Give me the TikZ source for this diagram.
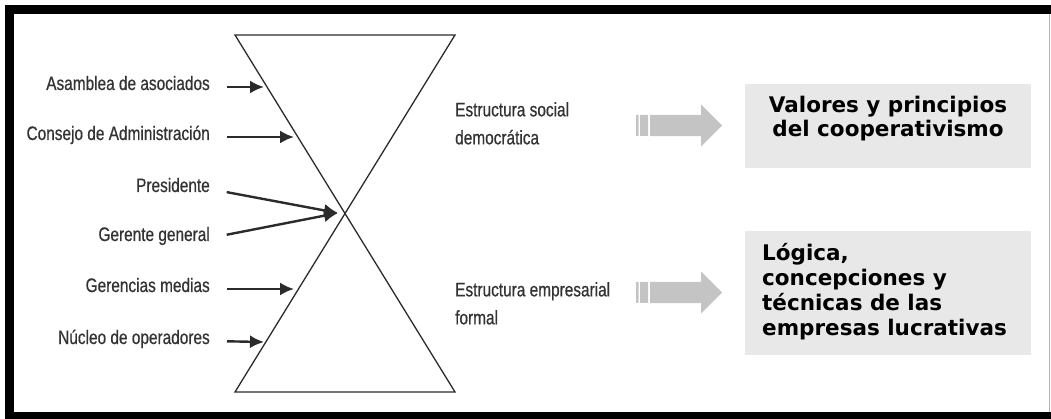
\documentclass[tikz,border=0pt]{standalone}
\usepackage{fontspec}
\setmainfont{Liberation Sans}
\newfontfamily\narrowfont{Liberation Sans}[FakeStretch=0.79, FakeBold=0.6]
\newfontfamily\boxfont{DejaVu Sans}
\usetikzlibrary{arrows.meta,shapes.arrows}
\definecolor{ink}{HTML}{2B2B2B}
\definecolor{labeltext}{HTML}{333333}
\definecolor{arrowgray}{HTML}{C4C4C4}
\definecolor{boxgray}{HTML}{E8E8E8}
\definecolor{edge}{HTML}{B4B4B4}

\begin{document}
\begin{tikzpicture}[x=1pt, y=-1pt,
  lbl/.style={anchor=east, font=\narrowfont\fontsize{19.5}{22}\selectfont,
              text=labeltext, text height=8pt, text depth=2pt, inner sep=0pt},
  mid/.style={anchor=north west, align=left, inner sep=0pt, text=labeltext,
              font=\narrowfont\fontsize{19.5}{28}\selectfont},
  box/.style={fill=boxgray, draw=none, minimum width=286pt, inner sep=0pt, anchor=north west},
  boxtext/.style={inner sep=0pt, text=black, font=\boxfont\bfseries\fontsize{21.5}{24}\selectfont},
  flecha/.style={single arrow, fill=arrowgray, draw=none, minimum height=72pt,
                 inner xsep=0pt, inner ysep=10.5pt, single arrow head extend=10.5pt,
                 single arrow tip angle=90, anchor=tail},
  arr/.style={-{Latex[length=14pt,width=13pt]}, line width=2.4pt, ink, shorten <=17pt}
]
  \useasboundingbox (0,0) rectangle (1051,419);

  % marco
  \draw[line width=9pt] (9.5,419) -- (9.5,10) -- (1051,10);
  \draw[line width=7pt] (5,415.5) -- (1051,415.5);
  \draw[edge, line width=1.5pt] (1049.5,14) -- (1049.5,412);

  % reloj de arena
  \coordinate (tl) at (235,35);
  \coordinate (tr) at (455,35);
  \coordinate (bl) at (235,392);
  \coordinate (br) at (455,392);
  \draw[ink, line width=1.3pt] (tl) -- (tr) -- (bl) -- (br) -- cycle;

  \coordinate (tipA) at (264,87);
  \coordinate (tipB) at (294,137);
  \coordinate (tipC) at (338,213);
  \coordinate (tipD) at (294,289);
  \coordinate (tipE) at (264,342);

  % niveles
  \node[lbl] (asamblea) at (210,87) {Asamblea de asociados};
  \node[lbl] (consejo) at (210,137) {Consejo de Administración};
  \node[lbl] (presidente) at (210,189) {Presidente};
  \node[lbl] (gerente) at (210,238) {Gerente general};
  \node[lbl] (gerencias) at (210,289) {Gerencias medias};
  \node[lbl] (nucleo) at (210,341) {Núcleo de operadores};

  \draw[arr] (asamblea.east) -- (tipA);
  \draw[arr] (consejo.east) -- (tipB);
  \draw[arr] (presidente.east) -- (tipC);
  \draw[arr] (gerente.east) -- (tipC);
  \draw[arr] (gerencias.east) -- (tipD);
  \draw[arr] (nucleo.east) -- (tipE);

  % estructuras
  \node[mid] (social) at (455,102) {Estructura social\\democrática};
  \node[mid] (empresarial) at (455,282) {Estructura empresarial\\formal};

  \node[flecha] (flechaA) at (650,125.5) {};
  \node[flecha] (flechaB) at (650,292.5) {};
  \fill[arrowgray] (636,115) rectangle (638.5,136) (640,115) rectangle (648,136);
  \fill[arrowgray] (636,282) rectangle (638.5,303) (640,282) rectangle (648,303);

  % cuadros
  \node[box, minimum height=84pt] (valores) at (745,84) {};
  \node[boxtext, anchor=north, align=center] (valorestxt) at (888,96)
    {Valores y principios\\del cooperativismo};
  \node[box, minimum height=124pt] (logica) at (745,231) {};
  \node[boxtext, anchor=north west, align=left, font=\boxfont\bfseries\fontsize{21.5}{25}\selectfont]
    (logicatxt) at (762,243)
    {Lógica,\\concepciones y\\técnicas de las\\empresas lucrativas};
\end{tikzpicture}
\end{document}
